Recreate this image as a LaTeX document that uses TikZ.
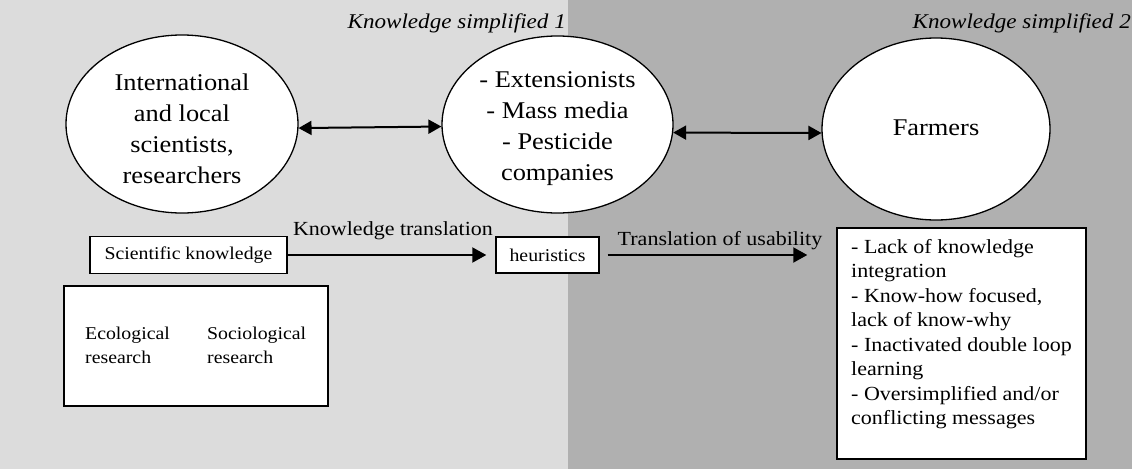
\documentclass[tikz,border=0pt]{standalone}
\usepackage{fontspec}
\setmainfont[FakeStretch=1.1]{Liberation Serif}
\usetikzlibrary{shapes.geometric,arrows.meta}

\definecolor{paneA}{HTML}{DCDCDC}
\definecolor{paneB}{HTML}{B0B0B0}

\tikzset{
  actor/.style={ellipse, draw=black, line width=1.3pt, fill=white, inner sep=0pt},
  actortext/.style={align=center, inner sep=0pt, font=\fontsize{24}{31}\selectfont},
  plainbox/.style={rectangle, draw=black, line width=1.4pt, fill=white, inner sep=0pt},
  panetitle/.style={font=\fontsize{21}{24}\selectfont\itshape, inner sep=0pt},
  flowlabel/.style={font=\fontsize{20}{22}\selectfont, inner sep=0pt},
  dbl/.style={line width=2pt, {Triangle[length=13pt,width=14pt]}-{Triangle[length=13pt,width=14pt]}},
  fwd/.style={line width=2pt, -{Triangle[length=14pt,width=15pt]}},
}

\begin{document}
\begin{tikzpicture}[x=1pt,y=-1pt]
  \useasboundingbox (0,0) rectangle (1132,469);
  \clip (0,0) rectangle (1132,469);

  % two background panes
  \fill[paneA] (0,0) rectangle (568,469);
  \fill[paneB] (568,0) rectangle (1132,469);

  % pane titles
  \node[panetitle, anchor=base east] (t1) at (566,28) {Knowledge simplified 1};
  \node[panetitle, anchor=base east] (t2) at (1131,28) {Knowledge simplified 2};

  % actors
  \node[actor, minimum width=232pt, minimum height=178pt] (sci) at (182,124) {};
  \node[actor, minimum width=231pt, minimum height=177pt] (mid) at (557.5,124.5) {};
  \node[actor, minimum width=228pt, minimum height=182pt] (farm) at (936,129) {};

  \node[actortext] (scitext) at ([yshift=-5pt]sci.center)
    {International\\and local\\scientists,\\researchers};
  \node[actortext] (midtext) at ([yshift=-4pt]mid.center)
    {- Extensionists\\- Mass media\\- Pesticide\\companies};
  \node[actortext] (farmtext) at ([yshift=1pt]farm.center) {Farmers};

  \draw[dbl] (sci.-2) -- (mid.181);
  \draw[dbl] (mid.-4) -- (farm.182);

  % knowledge flow
  \node[plainbox, minimum width=197pt, minimum height=37pt,
        font=\fontsize{18}{20}\selectfont] (sk) at (188.5,255) {Scientific knowledge};
  \node[plainbox, minimum width=103pt, minimum height=36pt,
        font=\fontsize{18}{20}\selectfont] (heur) at (547.5,255) {heuristics};
  \node[plainbox, minimum width=249pt, minimum height=231pt] (out) at (961.5,343.5) {};
  \node[anchor=north west, inner sep=0pt, align=left,
        font=\fontsize{20}{24.5}\selectfont] (outtxt) at (851,239)
    {- Lack of knowledge\\integration\\- Know-how focused,\\lack of know-why\\- Inactivated double loop\\learning\\- Oversimplified and/or\\conflicting messages};

  \draw[fwd, shorten >=9pt] (sk.east) -- (heur.west);
  \draw[fwd, shorten <=8pt, shorten >=29pt] (heur.east) -- (out.west |- heur.east);

  \node[flowlabel, anchor=base] (kt) at (393,235) {Knowledge translation};
  \node[flowlabel, anchor=base] (tu) at (720,245) {Translation of usability};

  % research fields
  \node[plainbox, minimum width=264pt, minimum height=120pt] (res) at (196,346) {};
  \node[anchor=north west, inner sep=0pt, align=left,
        font=\fontsize{18}{24}\selectfont] (eco) at (85,327) {Ecological\\research};
  \node[anchor=north west, inner sep=0pt, align=left,
        font=\fontsize{18}{24}\selectfont] (soc) at (207,327) {Sociological\\research};
\end{tikzpicture}
\end{document}
